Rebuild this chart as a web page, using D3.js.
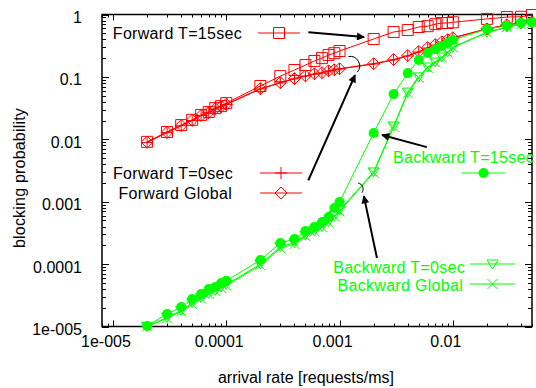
<!DOCTYPE html>
<html>
<head>
<meta charset="utf-8">
<script src="https://cdn.jsdelivr.net/npm/d3@7"></script>
<style>
  body { margin: 0; background: #fff; }
  svg { display: block; font-family: 'Liberation Sans', Arial, sans-serif; }
</style>
</head>
<body>
<svg id="chart" width="536" height="388"></svg>
<script>
// arrival rates (x) shared by every series
const rates = [2e-5, 3e-5, 4e-5, 5e-5, 6e-5, 7e-5, 8e-5, 9e-5, 1e-4,
  2e-4, 3e-4, 4e-4, 5e-4, 6e-4, 7e-4, 8e-4, 9e-4, 1e-3,
  2e-3, 3e-3, 4e-3, 5e-3, 6e-3, 7e-3, 8e-3, 9e-3, 1e-2,
  2e-2, 3e-2, 4e-2, 5e-2];

const fwdT15 = [0.0091, 0.0131, 0.0169, 0.0205, 0.0246, 0.0273, 0.0316, 0.034, 0.038,
  0.0715, 0.103, 0.129, 0.155, 0.18, 0.2, 0.225, 0.24, 0.26,
  0.405, 0.525, 0.565, 0.63, 0.65, 0.7, 0.73, 0.73, 0.75,
  0.85, 0.91, 0.92, 0.98];
const fwdT0 = [0.0089, 0.0128, 0.0165, 0.02, 0.024, 0.0265, 0.0305, 0.033, 0.036,
  0.064, 0.08, 0.093, 0.103, 0.111, 0.115, 0.124, 0.129, 0.134,
  0.161, 0.187, 0.216, 0.25, 0.29, 0.325, 0.36, 0.39, 0.42,
  0.586, 0.68, 0.73, 0.76];
const fwdGlobal = [0.009, 0.0129, 0.0166, 0.0202, 0.0242, 0.0268, 0.031, 0.0335, 0.0365,
  0.065, 0.081, 0.094, 0.104, 0.112, 0.117, 0.125, 0.13, 0.135,
  0.163, 0.19, 0.22, 0.255, 0.295, 0.33, 0.365, 0.395, 0.425,
  0.59, 0.685, 0.735, 0.765];
const bwdT15 = [1.02e-5, 1.58e-5, 2.05e-5, 2.76e-5, 3.32e-5, 3.99e-5, 4.3e-5, 4.98e-5, 5.4e-5,
  1.16e-4, 2.18e-4, 2.52e-4, 3.4e-4, 3.93e-4, 4.73e-4, 5.69e-4, 7.93e-4, 9.9e-4,
  0.0126, 0.053, 0.115, 0.187, 0.242, 0.28, 0.313, 0.35, 0.39,
  0.586, 0.655, 0.73, 0.75];
const bwdT0 = [1.0e-5, 1.4e-5, 1.8e-5, 2.4e-5, 2.9e-5, 3.4e-5, 3.8e-5, 4.3e-5, 4.7e-5,
  1.0e-4, 1.9e-4, 2.2e-4, 2.9e-4, 3.4e-4, 4.0e-4, 4.8e-4, 6.0e-4, 7.3e-4,
  0.003, 0.0163, 0.057, 0.1, 0.144, 0.173, 0.208, 0.25, 0.3,
  0.52, 0.63, 0.7, 0.73];
const bwdGlobal = [1.0e-5, 1.35e-5, 1.75e-5, 2.3e-5, 2.8e-5, 3.3e-5, 3.7e-5, 4.1e-5, 4.5e-5,
  0.96e-4, 1.8e-4, 2.1e-4, 2.8e-4, 3.3e-4, 3.9e-4, 4.6e-4, 5.8e-4, 7.0e-4,
  0.0029, 0.0158, 0.055, 0.097, 0.14, 0.17, 0.205, 0.245, 0.295,
  0.515, 0.625, 0.695, 0.725];

const xTickValues = [1e-5, 1e-4, 1e-3, 1e-2];
const xTickLabels = ['1e-005', '0.0001', '0.001', '0.01'];
const yTickValues = [1e-5, 1e-4, 1e-3, 1e-2, 1e-1, 1];
const yTickLabels = ['1e-005', '0.0001', '0.001', '0.01', '0.1', '1'];

// annotation arrows and brackets, in data coordinates
const arrows = [
  {from: [5.3e-4, 0.52], to: [1.65e-3, 0.435]},
  {from: [5.3e-4, 0.0022], to: [1.37e-3, 0.107]},
  {from: [5.9e-3, 0.0075], to: [2.37e-3, 0.0117]},
  {from: [2.14e-3, 1.25e-4], to: [1.64e-3, 1.23e-3]}
];
const brackets = [
  {at: [1.24e-3, 0.15], r: 9.5, a0: -100, a1: 41},
  {at: [1.43e-3, 0.0016], r: 6, a0: -80, a1: 39}
];

const RED = '#ff0000';
const GREEN = '#00ff00';

const series = [
  {name: 'Forward T=15sec', values: fwdT15, color: RED, marker: 'square',
    key: {tx: 242, ty: 33, anchor: 'end', x0: 258, x1: 300, ly: 33}, textColor: '#000'},
  {name: 'Forward T=0sec', values: fwdT0, color: RED, marker: 'plus',
    key: {tx: 233, ty: 173, anchor: 'end', x0: 260, x1: 302, ly: 173}, textColor: '#000'},
  {name: 'Forward Global', values: fwdGlobal, color: RED, marker: 'diamond',
    key: {tx: 232, ty: 193, anchor: 'end', x0: 260, x1: 302, ly: 193}, textColor: '#000'},
  {name: 'Backward T=15sec', values: bwdT15, color: GREEN, marker: 'circle',
    key: {tx: 393, ty: 157, anchor: 'start', x0: 462, x1: 505, ly: 173}, textColor: GREEN},
  {name: 'Backward T=0sec', values: bwdT0, color: GREEN, marker: 'triangle',
    key: {tx: 465, ty: 267, anchor: 'end', x0: 470, x1: 515, ly: 264}, textColor: GREEN},
  {name: 'Backward Global', values: bwdGlobal, color: GREEN, marker: 'cross',
    key: {tx: 463, ty: 285, anchor: 'end', x0: 470, x1: 515, ly: 284}, textColor: GREEN}
];

const svg = d3.select('#chart');
const x = d3.scaleLog().domain([8e-6, 0.05]).range([102, 532]);
const y = d3.scaleLog().domain([1e-5, 1]).range([326.5, 14.5]);
const [plotLeft, plotRight] = x.range();
const [plotBottom, plotTop] = y.range();

function markerPath(type) {
  switch (type) {
    case 'square': return 'M-5.5,-5.5H5.5V5.5H-5.5Z';
    case 'diamond': return 'M0,-6L6,0L0,6L-6,0Z';
    case 'plus': return 'M-6,0H6M0,-6V6';
    case 'triangle': return 'M-5.5,-4L5.5,-4L0,5Z';
    case 'cross': return 'M-5,-5L5,5M5,-5L-5,5';
    default: return null;
  }
}

function drawMarker(g, type, color) {
  if (type === 'circle') {
    g.append('circle').attr('r', 5).attr('fill', color);
  } else {
    g.append('path').attr('d', markerPath(type))
      .attr('fill', 'none').attr('stroke', color).attr('stroke-width', 1);
  }
}

// ticks (mirrored, pointing inward)
const isMajor = v => Math.abs(Math.log10(v) - Math.round(Math.log10(v))) < 1e-9;
const xt = x.ticks().filter(v => v >= 8e-6 && v <= 0.05);
const yt = y.ticks();
const ticks = svg.append('g').attr('stroke', '#000').attr('stroke-width', 1);
xt.forEach(v => {
  const px = Math.round(x(v)) + 0.5;
  const len = isMajor(v) ? 6 : 3;
  ticks.append('line').attr('x1', px).attr('x2', px).attr('y1', plotBottom).attr('y2', plotBottom - len);
  ticks.append('line').attr('x1', px).attr('x2', px).attr('y1', plotTop).attr('y2', plotTop + len);
});
yt.forEach(v => {
  const py = Math.round(y(v)) + 0.5;
  const len = isMajor(v) ? 7 : 4;
  ticks.append('line').attr('y1', py).attr('y2', py).attr('x1', plotLeft).attr('x2', plotLeft + len);
  ticks.append('line').attr('y1', py).attr('y2', py).attr('x1', plotRight).attr('x2', plotRight - len);
});

// frame
svg.append('rect')
  .attr('x', plotLeft).attr('y', plotTop).attr('width', plotRight - plotLeft).attr('height', plotBottom - plotTop)
  .attr('fill', 'none').attr('stroke', '#000').attr('stroke-width', 1.5);

// tick labels
svg.append('g').selectAll('text').data(xTickValues).join('text')
  .attr('x', d => x(d) - 7).attr('y', plotBottom + 20.5)
  .attr('text-anchor', 'middle').attr('font-size', 16).attr('fill', '#000')
  .text((d, i) => xTickLabels[i]);
svg.append('g').selectAll('text').data(yTickValues).join('text')
  .attr('x', 82).attr('y', d => y(d) + 8.5)
  .attr('text-anchor', 'end').attr('font-size', 16).attr('fill', '#000')
  .text((d, i) => yTickLabels[i]);

// axis titles
svg.append('text').attr('x', 306).attr('y', 383).attr('text-anchor', 'middle')
  .attr('font-size', 16).attr('fill', '#000').text('arrival rate [requests/ms]');
svg.append('text').attr('transform', 'translate(25,178) rotate(-90)').attr('text-anchor', 'middle')
  .attr('font-size', 16).attr('letter-spacing', 0.2).attr('fill', '#000').text('blocking probability');

// series
const line = d3.line().x(d => x(d[0])).y(d => y(d[1]));
series.forEach(s => {
  const pts = rates.map((r, i) => [r, s.values[i]]);
  const g = svg.append('g');
  g.append('path').datum(pts).attr('d', line)
    .attr('fill', 'none').attr('stroke', s.color).attr('stroke-width', 1);
  g.selectAll('g').data(pts).join('g')
    .attr('transform', d => `translate(${x(d[0])},${y(d[1])})`)
    .each(function () { drawMarker(d3.select(this), s.marker, s.color); });

  // key entry
  const k = s.key;
  svg.append('text').attr('x', k.tx).attr('y', k.ty + 6).attr('text-anchor', k.anchor)
    .attr('font-size', 16).attr('letter-spacing', 0.3).attr('fill', s.textColor).text(s.name);
  svg.append('line').attr('x1', k.x0).attr('x2', k.x1).attr('y1', k.ly).attr('y2', k.ly)
    .attr('stroke', s.color).attr('stroke-width', 1);
  const mg = svg.append('g').attr('transform', `translate(${(k.x0 + k.x1) / 2},${k.ly})`);
  drawMarker(mg, s.marker, s.color);
});

// arrows
svg.append('defs').append('marker')
  .attr('id', 'head').attr('viewBox', '0 0 10 10').attr('refX', 9).attr('refY', 5)
  .attr('markerWidth', 5).attr('markerHeight', 4).attr('orient', 'auto')
  .attr('markerUnits', 'strokeWidth')
  .append('path').attr('d', 'M0,0L10,5L0,10Z').attr('fill', '#000');
svg.append('g').selectAll('line').data(arrows).join('line')
  .attr('x1', d => x(d.from[0])).attr('y1', d => y(d.from[1]))
  .attr('x2', d => x(d.to[0])).attr('y2', d => y(d.to[1]))
  .attr('stroke', '#000').attr('stroke-width', 2).attr('marker-end', 'url(#head)');

// brackets
svg.append('g').selectAll('path').data(brackets).join('path')
  .attr('d', d => {
    const cx = x(d.at[0]), cy = y(d.at[1]);
    const a0 = d.a0 * Math.PI / 180, a1 = d.a1 * Math.PI / 180;
    return `M${cx + d.r * Math.cos(a0)},${cy + d.r * Math.sin(a0)}` +
      `A${d.r},${d.r} 0 0 1 ${cx + d.r * Math.cos(a1)},${cy + d.r * Math.sin(a1)}`;
  })
  .attr('fill', 'none').attr('stroke', '#000').attr('stroke-width', 1);
</script>
</body>
</html>
